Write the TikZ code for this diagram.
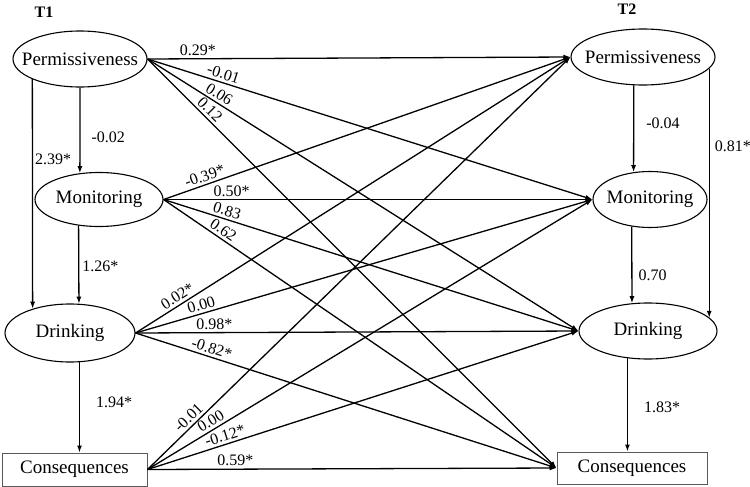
\documentclass[tikz,border=0pt]{standalone}
\usepackage{fontspec}
\setmainfont{Liberation Serif}
\usetikzlibrary{shapes.geometric,arrows.meta}
\begin{document}
\begin{tikzpicture}[x=1pt,y=-1pt,
  ell/.style={draw,ellipse,line width=1.1pt,inner sep=0pt,label={center:\fontsize{19}{22}\selectfont #1}},
  box/.style={draw=black!65,rectangle,line width=1pt,inner sep=0pt,font=\fontsize{19}{22}\selectfont},
  arr/.style={line width=1.3pt,-{Latex[length=7pt,width=5pt]}},
  lab/.style={font=\fontsize{16}{18}\selectfont,inner sep=2.5pt},
  vlab/.style={font=\fontsize{16}{18}\selectfont,inner sep=0pt,anchor=west},
  ttl/.style={font=\fontsize{16}{18}\selectfont\bfseries}
]
\useasboundingbox (0,0) rectangle (750,487);

\node[ttl] (T1) at (44,12) {T1};
\node[ttl] (T2) at (627,9) {T2};

% left (T1)
\node[ell=Permissiveness, minimum width=134pt, minimum height=56pt] (P1) at (80,59) {};
\node[ell=Monitoring, minimum width=128pt, minimum height=54pt] (M1) at (99,199.5) {};
\node[ell=Drinking, minimum width=130pt, minimum height=58pt] (D1) at (70,333) {};
\node[box, minimum width=145pt, minimum height=33pt] (C1) at (74.5,469.5) {Consequences};

% right (T2)
\node[ell=Permissiveness, minimum width=144pt, minimum height=56pt] (P2) at (643,57) {};
\node[ell=Monitoring, minimum width=114pt, minimum height=56pt] (M2) at (650,199.5) {};
\node[ell=Drinking, minimum width=138pt, minimum height=56pt] (D2) at (648,331) {};
\node[box, minimum width=150pt, minimum height=32pt] (C2) at (632,468) {Consequences};

% vertical paths T1
\draw[arr] (P1.south) -- node[vlab,pos=0.58,xshift=11pt]{-0.02} (M1.126);
\draw[arr] (P1.203) -- node[vlab,pos=0.35,xshift=2pt]{2.39*} (D1.147);
\draw[arr] (M1.232) -- node[vlab,pos=0.52,xshift=3pt]{1.26*} (D1.73);
\draw[arr] (D1.288) -- node[vlab,pos=0.44,xshift=16pt]{1.94*} (D1.288 |- C1.north);

% vertical paths T2
\draw[arr] (P2.252) -- node[vlab,pos=0.44,xshift=12pt]{-0.04} (M2.121);
\draw[arr] (P2.350) -- node[vlab,pos=0.31,xshift=5pt]{0.81*} (P2.350 |- D2.12);
\draw[arr] (M2.236) -- node[vlab,pos=0.64,xshift=6pt]{0.70} (D2.120);
\draw[arr] (D2.233) -- node[vlab,pos=0.53,xshift=16pt]{1.83*} (D2.233 |- C2.north);

% cross-lagged paths
\foreach \s/\t/\l/\p in {
  P1/P2/0.29*/0.119, P1/M2/-0.01/0.165, P1/D2/0.06/0.156, P1/C2/0.12/0.138,
  M1/P2/-0.39*/0.108, M1/M2/0.50*/0.159, M1/D2/0.83/0.147, M1/C2/0.62/0.14,
  D1/P2/0.02*/0.107, D1/M2/0.00/0.149, D1/D2/0.98*/0.178, D1/C2/-0.82*/0.175,
  C1/P2/-0.01/0.111, C1/M2/0.00/0.152, C1/D2/-0.12*/0.186, C1/C2/0.59*/0.215}
  \draw[arr] (\s.east) -- node[lab,sloped,above,pos=\p]{\l} (\t.west);
\end{tikzpicture}
\end{document}
